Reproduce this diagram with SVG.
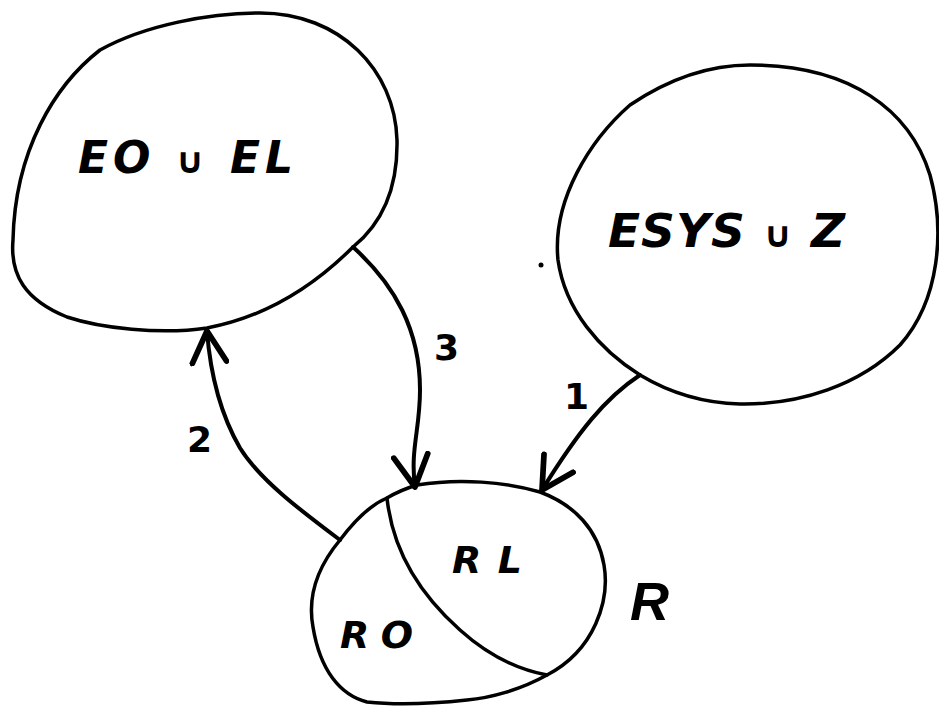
<svg xmlns="http://www.w3.org/2000/svg" width="939" height="708" viewBox="0 0 939 708">
<style>
.shape{fill:none;stroke:#000;stroke-width:3.5;stroke-linecap:round;stroke-linejoin:round}
.conn{fill:none;stroke:#000;stroke-width:4;stroke-linecap:round}
.lbl{font-family:"DejaVu Sans","Liberation Sans",Arial,sans-serif;font-weight:bold;font-style:italic;fill:#000}
.num{font-family:"DejaVu Sans","Liberation Sans",Arial,sans-serif;font-weight:bold;fill:#000;font-size:36px}
</style>
<defs>
<marker id="head" markerUnits="userSpaceOnUse" markerWidth="40" markerHeight="40" refX="24" refY="14" orient="auto" viewBox="0 0 28 28">
<path d="M2,2 L24,14 L2,26" fill="none" stroke="#000" stroke-width="4" stroke-linecap="round" stroke-linejoin="round"/>
</marker>
</defs>
<rect width="939" height="708" fill="#fff"/>
<g id="node-EO-EL">
<path class="shape" d="M260,13 C340,13 395,70 397,140 C398,190 380,225 353,247 C310,290 260,318 207,328 C160,335 100,328 67,317 C25,300 10,275 13,240 C15,150 55,85 100,50 C145,25 210,13 260,13 Z"/>
<text class="lbl" x="78" y="173" font-size="44" textLength="215" lengthAdjust="spacing">EO <tspan font-size="36">∪</tspan> EL</text>
</g>
<g id="node-ESYS-Z">
<path class="shape" d="M750,65 C850,65 910,110 930,175 C945,230 940,300 900,345 C860,385 800,405 740,404 C700,403 665,390 640,375 C600,350 565,310 558,260 C552,200 590,140 630,105 C670,78 710,65 750,65 Z"/>
<text class="lbl" x="608" y="247" font-size="47" textLength="237" lengthAdjust="spacing">ESYS <tspan font-size="36">∪</tspan> Z</text>
<circle cx="541" cy="265" r="2.5" fill="#000"/>
</g>
<g id="node-R">
<path class="shape" d="M417,485 C460,478 505,482 540,492 C575,505 598,530 604,565 C610,600 595,650 547,675 C520,690 490,698 467,700 C430,704 395,705 367,702 C340,695 320,670 313,627 C308,600 315,570 340,540 C355,520 370,505 387,498 C397,492 407,488 417,485 Z"/>
<path class="shape" d="M387,498 C392,545 415,590 460,630 C490,657 520,670 547,675"/>
<text class="lbl" x="452" y="573" font-size="38" textLength="70" lengthAdjust="spacing">RL</text>
<text class="lbl" x="340" y="648" font-size="38" textLength="73" lengthAdjust="spacing">RO</text>
<text x="630" y="620" font-size="54" font-family="Liberation Sans, Arial, sans-serif" font-style="italic" font-weight="600" fill="#000">R</text>
</g>
<g id="connectors">
<path class="conn" d="M640,375 C605,398 578,432 542,490" marker-end="url(#head)"/>
<path class="conn" d="M340,540 C300,510 260,480 240,448 C218,410 210,370 207,331" marker-end="url(#head)"/>
<path class="conn" d="M353,247 C395,285 420,330 420,390 C420,430 410,450 415,487" marker-end="url(#head)"/>
<text class="num" x="564" y="409">1</text>
<text class="num" x="187" y="452">2</text>
<text class="num" x="434" y="360">3</text>
</g>
</svg>
